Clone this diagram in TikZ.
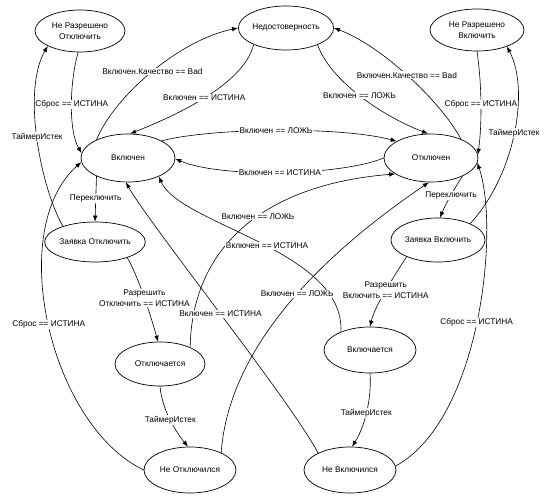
\documentclass[tikz,border=0pt]{standalone}
\usepackage{fontspec}
\setmainfont{Liberation Sans}
\usetikzlibrary{arrows.meta,shapes.geometric}
\begin{document}
\begin{tikzpicture}[x=1pt,y=-1pt,
  stnode/.style={draw, ellipse, line width=0.7pt, inner sep=0pt, align=center,
    font=\fontsize{8.3}{10.5}\selectfont, minimum width=92pt, minimum height=44pt},
  trans/.style={line width=0.6pt, -{Latex[length=6pt,width=4.5pt]}},
  lab/.style={fill=white, inner sep=0.8pt, align=center, font=\fontsize{8.3}{10.5}\selectfont}]
\useasboundingbox (0,0) rectangle (550,500);

% states
\node[stnode, minimum width=90pt, minimum height=42pt] (NRO) at (80,31) {Не Разрешено\\Отключить};
\node[stnode] (Ned) at (286,28) {Недостоверность};
\node[stnode, minimum width=94pt, minimum height=42pt] (NRV) at (477,30) {Не Разрешено\\Включить};
\node[stnode, minimum width=94pt, minimum height=48pt] (Vkl) at (128,158) {Включен};
\node[stnode, minimum width=94pt, minimum height=48pt] (Otkl) at (431,158) {Отключен};
\node[stnode, minimum height=40pt] (ZO) at (95,242) {Заявка Отключить};
\node[stnode, minimum width=90pt] (ZV) at (438,240) {Заявка Включить};
\node[stnode, minimum width=90pt] (Otc) at (160,364) {Отключается};
\node[stnode, minimum height=46pt] (Vkc) at (370,350) {Включается};
\node[stnode, minimum height=46pt] (NO) at (190,470) {Не Отключился};
\node[stnode, minimum height=46pt] (NV) at (350,470) {Не Включился};

% transitions
\draw[trans] (NRO.265) .. controls (70,80) and (68,130) .. node[lab]{Сброс == ИСТИНА} (Vkl.174);
\draw[trans] (ZO.154) .. controls (40,185) and (22,90) .. node[lab]{ТаймерИстек} (NRO.205);
\draw[trans] (Vkl.150) .. controls (115,95) and (180,40) .. node[lab]{Включен.Качество == Bad} (Ned.180);
\draw[trans] (Ned.207) .. controls (245,80) and (190,110) .. node[lab,pos=0.55]{Включен == ИСТИНА} (Vkl.85);
\draw[trans] (Ned.332) .. controls (330,80) and (380,115) .. node[lab]{Включен == ЛОЖЬ} (Otkl.97);
\draw[trans] (Otkl.32) .. controls (440,100) and (380,45) .. node[lab]{Включен.Качество == Bad} (Ned.0);
\draw[trans] (NRV.270) .. controls (482,85) and (482,125) .. node[lab]{Сброс == ИСТИНА} (Otkl.4);
\draw[trans] (ZV.27) .. controls (515,175) and (530,90) .. node[lab]{ТаймерИстек} (NRV.331);
\draw[trans] (Vkl.27) .. controls (210,128) and (340,126) .. node[lab]{Включен == ЛОЖЬ} (Otkl.154);
\draw[trans] (Otkl.180) .. controls (340,176) and (220,178) .. node[lab]{Включен == ИСТИНА} (Vkl.359);
\draw[trans] (Vkl.210) -- node[lab]{Переключить} (ZO.90);
\draw[trans] (Otkl.330) .. controls (456,186) and (446,203) .. node[lab]{Переключить} (ZV.85);
\draw[trans] (ZO.334) .. controls (138,275) and (152,320) .. node[lab]{Разрешить\\Отключить == ИСТИНА} (Otc.95);
\draw[trans] (ZV.208) .. controls (395,275) and (375,305) .. node[lab]{Разрешить\\Включить == ИСТИНА} (Vkc.90);
\draw[trans] (Otc.270) .. controls (162,410) and (176,432) .. node[lab]{ТаймерИстек} (NO.95);
\draw[trans] (Vkc.270) .. controls (372,400) and (364,428) .. node[lab]{ТаймерИстек} (NV.85);
\draw[trans] (NO.180) .. controls (50,425) and (5,230) .. node[lab]{Сброс == ИСТИНА} (Vkl.185);
\draw[trans] (NV.5) .. controls (480,420) and (500,230) .. node[lab]{Сброс == ИСТИНА} (Otkl.354);
\draw[trans] (Otc.29) .. controls (192,250) and (260,185) .. node[lab,pos=0.57]{Включен == ЛОЖЬ} (Otkl.204);
\draw[trans] (Vkc.148) .. controls (345,250) and (180,225) .. node[lab,pos=0.47]{Включен == ИСТИНА} (Vkl.329);
\draw[trans] (NO.29) .. controls (228,360) and (300,270) .. node[lab,pos=0.58]{Включен == ЛОЖЬ} (Otkl.265);
\draw[trans] (NV.152) .. controls (290,400) and (150,225) .. node[lab]{Включен == ИСТИНА} (Vkl.265);
\end{tikzpicture}
\end{document}
